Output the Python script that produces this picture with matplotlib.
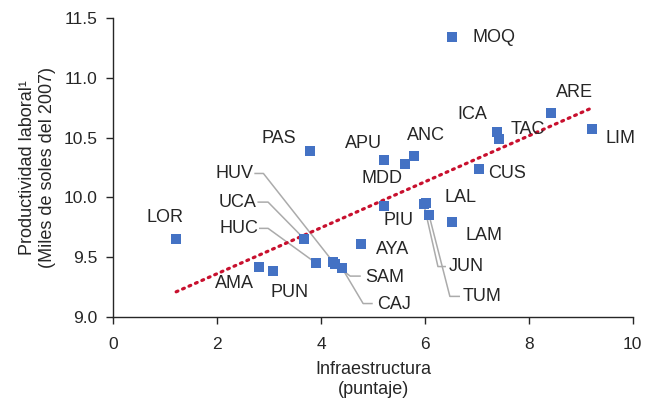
"""Productividad laboral vs infraestructura por región (scatter + tendencia lineal)."""

import matplotlib

matplotlib.use("Agg")
import matplotlib.pyplot as plt
import numpy as np

plt.rcParams["font.family"] = ["Liberation Sans", "DejaVu Sans"]

# --- data ---
regions = ["LOR", "AMA", "PUN", "PAS", "UCA", "HUC", "HUV", "SAM", "CAJ", "AYA",
           "PIU", "APU", "MDD", "ANC", "LAL", "JUN", "TUM", "LAM", "MOQ", "ICA",
           "TAC", "ARE", "LIM", "CUS"]
infra = [1.21, 2.80, 3.07, 3.79, 3.68, 3.90, 4.23, 4.27, 4.40, 4.76,
         5.22, 5.22, 5.62, 5.78, 6.02, 5.98, 6.08, 6.52, 6.53, 7.38,
         7.43, 8.42, 9.21, 7.05]
product = [9.65, 9.42, 9.38, 10.39, 9.65, 9.45, 9.46, 9.44, 9.41, 9.61,
           9.93, 10.31, 10.28, 10.35, 9.95, 9.94, 9.85, 9.79, 11.34, 10.55,
           10.49, 10.71, 10.57, 10.24]

# label placement (data coords): (x, y, ha)
label_pos = {
    "MOQ": (6.91, 11.34, "left"), "ARE": (8.87, 10.88, "center"),
    "ICA": (6.92, 10.69, "center"), "TAC": (7.99, 10.57, "center"),
    "LIM": (9.77, 10.49, "center"), "CUS": (7.58, 10.20, "center"),
    "ANC": (6.02, 10.52, "center"), "APU": (4.81, 10.45, "center"),
    "MDD": (5.17, 10.16, "center"), "PAS": (3.19, 10.49, "center"),
    "LAL": (6.68, 10.00, "center"), "LAM": (7.14, 9.68, "center"),
    "PIU": (5.50, 9.81, "center"), "AYA": (5.37, 9.56, "center"),
    "AMA": (2.34, 9.28, "center"), "PUN": (3.40, 9.20, "center"),
    "LOR": (0.99, 9.83, "center"),
    "HUV": (2.70, 10.20, "right"), "UCA": (2.76, 9.96, "right"),
    "HUC": (2.79, 9.74, "right"), "SAM": (4.85, 9.33, "left"),
    "CAJ": (5.07, 9.10, "left"), "JUN": (6.46, 9.42, "left"),
    "TUM": (6.73, 9.17, "left"),
}
# leader lines: (start x, elbow x, y)
leaders = {
    "HUV": (2.73, 2.89, 10.20), "UCA": (2.79, 2.98, 9.96),
    "HUC": (2.82, 2.98, 9.74), "SAM": (4.75, 4.56, 9.34),
    "CAJ": (4.98, 4.81, 9.11), "JUN": (6.39, 6.25, 9.42),
    "TUM": (6.66, 6.48, 9.17),
}

fig = plt.figure(figsize=(6.46, 4.0), dpi=100)
ax = fig.add_axes([0.1754, 0.2083, 0.804, 0.7459])

x = np.array(infra)
y = np.array(product)

# leader lines under the markers
for name, (sx, ex, ly) in leaders.items():
    i = regions.index(name)
    ax.plot([sx, ex, x[i]], [ly, ly, y[i]], color="#ABABAB", lw=1.1, zorder=1)

# trend line
slope, intercept = np.polyfit(x, y, 1)
xt = np.array([x.min(), x.max()])
ax.plot(xt, slope * xt + intercept, color="#C8102E", lw=2.3,
        linestyle=(0, (0.6, 1.6)), dash_capstyle="round", zorder=2)

ax.scatter(x, y, marker="s", s=60, color="#4472C4", linewidths=0, zorder=3)

for name, (lx, ly, ha) in label_pos.items():
    ax.text(lx, ly, name, ha=ha, va="center", fontsize=13, color="#262626")

ax.set_xlim(0, 10)
ax.set_ylim(9.0, 11.5)
ax.set_xticks([0, 2, 4, 6, 8, 10])
ax.set_yticks([9.0, 9.5, 10.0, 10.5, 11.0, 11.5])
ax.set_yticklabels(["9.0", "9.5", "10.0", "10.5", "11.0", "11.5"])
ax.tick_params(direction="out", length=5, width=1, labelsize=12.5,
               colors="#262626")
ax.tick_params(axis="x", pad=9.5)
ax.tick_params(axis="y", pad=6.5)
for s in ["top", "right"]:
    ax.spines[s].set_visible(False)
for s in ["left", "bottom"]:
    ax.spines[s].set_color("#262626")
    ax.spines[s].set_linewidth(1)

ax.set_xlabel("Infraestructura\n(puntaje)", fontsize=13, color="#262626",
              linespacing=1.25, labelpad=6.5)
ax.set_ylabel("Productividad laboral\u00b9\n(Miles de soles del 2007)",
              fontsize=13, color="#262626", linespacing=1.25, labelpad=5)

fig.savefig("out.png", dpi=100)
